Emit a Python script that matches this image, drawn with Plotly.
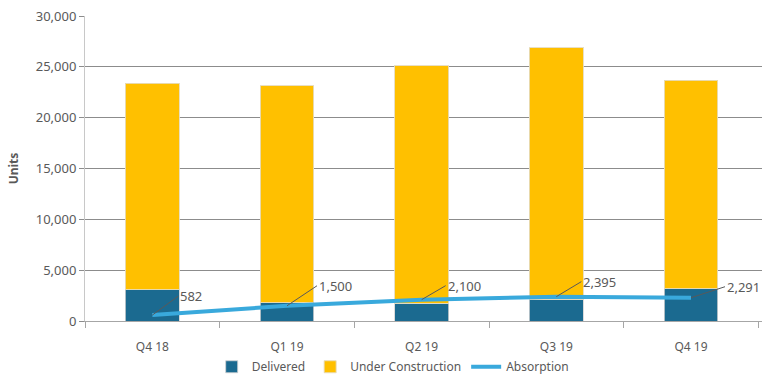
import plotly.graph_objects as go

quarters = ["Q4 18", "Q1 19", "Q2 19", "Q3 19", "Q4 19"]
delivered = [3050, 1800, 1750, 2150, 3170]
under_construction = [20350, 21350, 23350, 24750, 20500]
absorption = [582, 1500, 2100, 2395, 2291]
absorption_labels = ["582", "1,500", "2,100", "2,395", "2,291"]

FONT = "Noto Sans"
TEXT = "#595959"
GRID = "#8c8c8c"

fig = go.Figure()
fig.add_trace(go.Bar(
    x=quarters, y=delivered, name="Delivered",
    marker=dict(color="#1b6a90", line=dict(color="rgba(210,210,210,0.8)", width=1)),
))
fig.add_trace(go.Bar(
    x=quarters, y=under_construction, name="Under Construction",
    marker=dict(color="#ffc000", line=dict(color="rgba(230,220,190,0.9)", width=1)),
))
fig.add_trace(go.Scatter(
    x=quarters, y=absorption, name="Absorption", mode="lines",
    line=dict(color="#39a9dc", width=4),
))

# value labels with leader lines pointing up and to the right
offsets = [(26, -19), (30, -20), (24, -14), (25, -15), (34, -11)]
for q, v, lab, (ax, ay) in zip(quarters, absorption, absorption_labels, offsets):
    fig.add_annotation(
        x=q, y=v, text=lab, showarrow=True, arrowhead=0, arrowwidth=1,
        arrowcolor="#595959", ax=ax, ay=ay, xanchor="left", yanchor="middle",
        font=dict(family=FONT, size=13, color=TEXT), standoff=0,
    )

fig.update_layout(
    width=770, height=375,
    margin=dict(l=85, r=8, t=16, b=54, autoexpand=False),
    paper_bgcolor="white", plot_bgcolor="white",
    barmode="stack", bargap=0.6,
    font=dict(family=FONT, size=12, color=TEXT),
    showlegend=True,
    legend=dict(
        orientation="h", xref="container", yref="container",
        x=0.51, xanchor="center", y=0.022, yanchor="middle",
        bgcolor="rgba(0,0,0,0)",
        font=dict(family=FONT, size=12, color=TEXT), traceorder="normal",
        itemwidth=30, tracegroupgap=0,
    ),
    xaxis=dict(
        showline=True, linecolor="#a6a6a6", linewidth=1,
        ticks="outside", tickson="boundaries", ticklen=6, tickcolor="#a6a6a6",
        tickfont=dict(family=FONT, size=12, color=TEXT),
        ticklabelstandoff=15,
    ),
    yaxis=dict(
        range=[0, 30000], dtick=5000, tickformat=",",
        showgrid=True, gridcolor=GRID, gridwidth=1,
        showline=True, linecolor="#c8c8c8", linewidth=1,
        ticks="outside", ticklen=5, tickcolor=GRID,
        tickfont=dict(family=FONT, size=13, color=TEXT),
        zeroline=False,
        title=dict(text="<b>Units</b>", font=dict(family=FONT, size=12, color=TEXT), standoff=14),
    ),
)

fig.write_html("out.html")
